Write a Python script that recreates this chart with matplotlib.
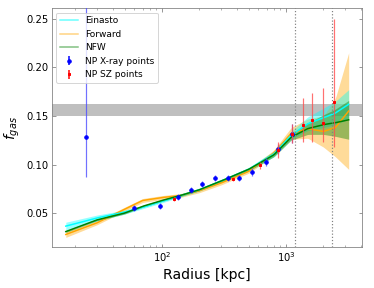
import numpy as np
import matplotlib
matplotlib.use("Agg")
import matplotlib.pyplot as plt
from matplotlib.lines import Line2D

# X-ray points (radius kpc, fgas, lower err, upper err)
xr_r = [24.4, 59.4, 96.9, 134, 172, 210, 267, 343, 418, 532, 686, 866, 1122]
xr_f = [0.128, 0.0555, 0.0569, 0.0662, 0.0737, 0.0802, 0.0858, 0.0861, 0.0864, 0.0926, 0.1027, 0.1160, 0.1318]
xr_lo = [0.041, 0.003, 0.003, 0.003, 0.003, 0.003, 0.003, 0.003, 0.003, 0.004, 0.004, 0.005, 0.010]
xr_hi = [0.20, 0.003, 0.003, 0.003, 0.003, 0.003, 0.003, 0.003, 0.003, 0.004, 0.004, 0.005, 0.010]

# SZ points
sz_r = [125.7, 374, 621, 866, 1122, 1361, 1611, 1977, 2455]
sz_f = [0.0644, 0.0854, 0.0990, 0.1150, 0.1318, 0.1404, 0.1456, 0.1425, 0.1644]
sz_lo = [0.002, 0.002, 0.004, 0.008, 0.010, 0.017, 0.022, 0.019, 0.046]
sz_hi = [0.002, 0.002, 0.004, 0.008, 0.010, 0.028, 0.028, 0.036, 0.085]

# model curves
mod_r = [16.8, 30, 50, 70, 100, 140, 200, 300, 500, 800, 1100, 1500, 2000, 2500, 3200]
ein_f = [0.0366, 0.045, 0.051, 0.056, 0.062, 0.068, 0.074, 0.083, 0.095, 0.111, 0.130, 0.142, 0.148, 0.153, 0.162]
ein_w = [0.004, 0.003, 0.002, 0.0015, 0.0015, 0.0015, 0.0015, 0.0015, 0.002, 0.003, 0.004, 0.007, 0.010, 0.012, 0.015]
fwd_f = [0.028, 0.040, 0.054, 0.063, 0.066, 0.068, 0.073, 0.081, 0.093, 0.112, 0.132, 0.137, 0.134, 0.138, 0.155]
fwd_w = [0.003, 0.002, 0.002, 0.002, 0.002, 0.002, 0.002, 0.002, 0.002, 0.003, 0.006, 0.010, 0.016, 0.030, 0.060]
nfw_f = [0.031, 0.043, 0.050, 0.057, 0.063, 0.068, 0.074, 0.083, 0.095, 0.110, 0.128, 0.137, 0.141, 0.143, 0.146]
nfw_w = [0.001, 0.001, 0.001, 0.001, 0.001, 0.001, 0.001, 0.001, 0.0015, 0.002, 0.003, 0.006, 0.010, 0.014, 0.020]

r500 = 1183
r200 = 2350

fig = plt.figure(figsize=(374 / 72, 288 / 72), dpi=72)
ax = fig.add_axes([0.139, 0.142, 0.829, 0.830])

ax.axhspan(0.150, 0.162, color="gray", alpha=0.5, lw=0)

rr = np.logspace(np.log10(mod_r[0]), np.log10(mod_r[-1]), 200)
lr = np.log10(rr)
lm = np.log10(mod_r)
for f, w, c in [(fwd_f, fwd_w, "orange"), (ein_f, ein_w, "cyan"), (nfw_f, nfw_w, "green")]:
    y = np.interp(lr, lm, f)
    e = np.interp(lr, lm, w)
    ax.fill_between(rr, y - e, y + e, color=c, alpha=0.4, lw=0)
    ax.plot(rr, y, color=c, lw=1.5)

ax.errorbar(xr_r, xr_f, yerr=[xr_lo, xr_hi], fmt="o", color="blue", ms=3.5,
            ecolor=(0.3, 0.3, 1.0, 0.8), elinewidth=1.2, zorder=5)
ax.errorbar(sz_r, sz_f, yerr=[sz_lo, sz_hi], fmt="s", color="red", ms=2.5,
            ecolor=(1.0, 0.3, 0.3, 0.8), elinewidth=1.2, zorder=6)

ax.axvline(r500, color="gray", ls=":", lw=1.2)
ax.axvline(r200, color="gray", ls=":", lw=1.2)

ax.set_xscale("log")
ax.set_xlim(13, 4100)
ax.set_ylim(0.015, 0.261)
ax.set_yticks([0.05, 0.10, 0.15, 0.20, 0.25])
ax.tick_params(which="both", direction="in", top=True, right=True,
               labelsize=10, color="gray")
for s in ax.spines.values():
    s.set_color("gray")

ax.set_xlabel("Radius [kpc]", fontsize=14)
ax.set_ylabel(r"$f_{gas}$", fontsize=14)

handles = [
    Line2D([], [], color="cyan", alpha=0.6, lw=1.5),
    Line2D([], [], color="orange", alpha=0.5, lw=1.5),
    Line2D([], [], color="green", alpha=0.5, lw=1.5),
    ax.errorbar([], [], yerr=[], fmt="o", color="blue", ms=3.5),
    ax.errorbar([], [], yerr=[], fmt="s", color="red", ms=2.5),
]
ax.legend(handles, ["Einasto", "Forward", "NFW", "NP X-ray points", "NP SZ points"],
          loc="upper left", fontsize=9)

fig.savefig("out.png", dpi=72)
